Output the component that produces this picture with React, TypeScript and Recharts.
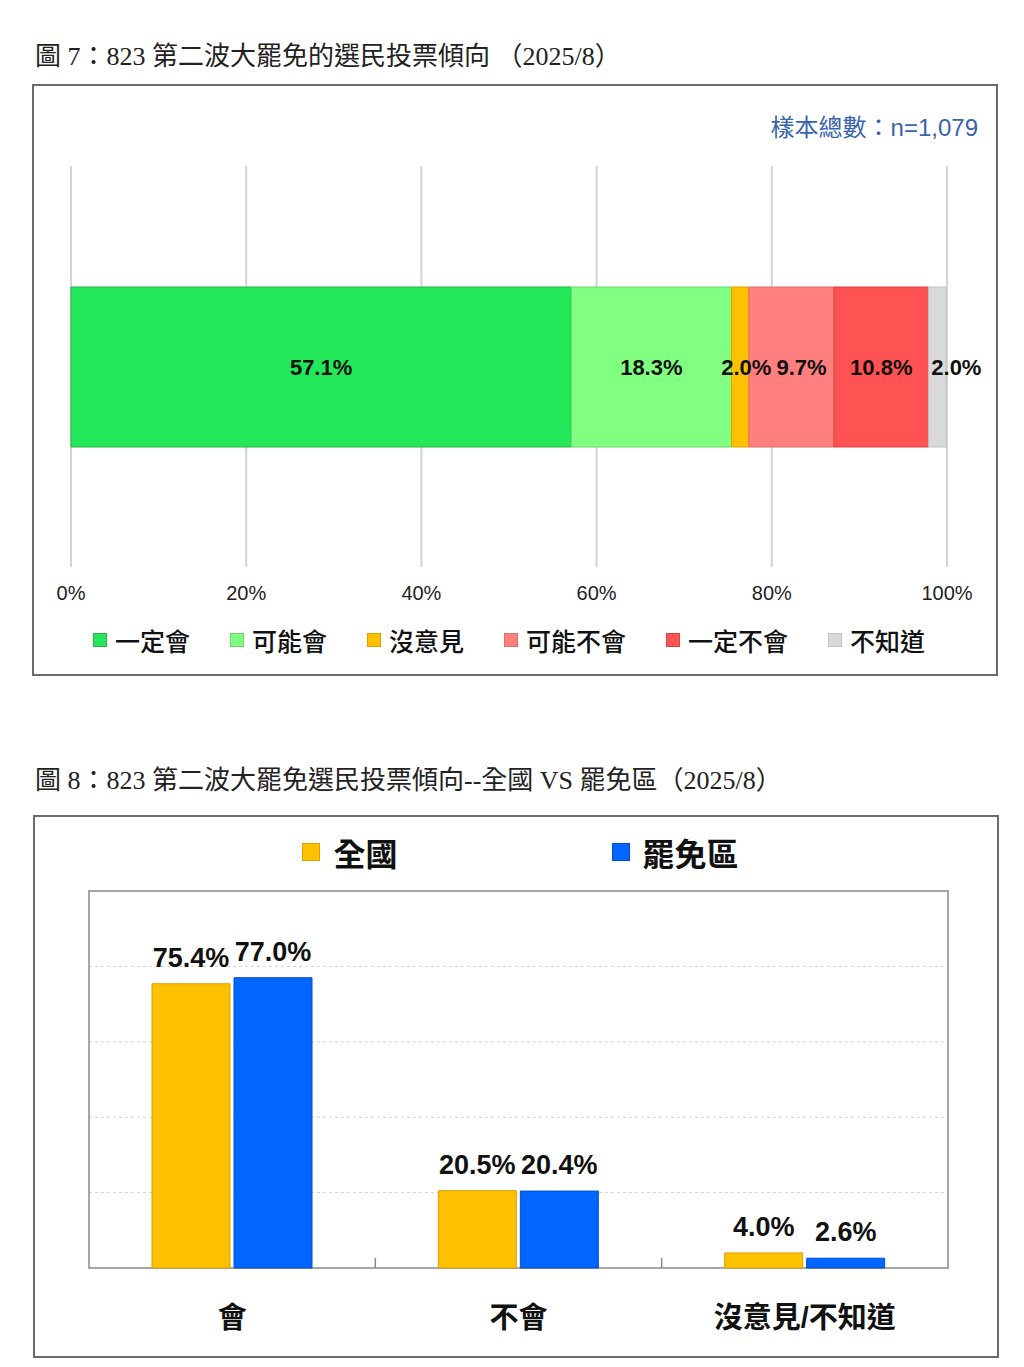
import {
  BarChart,
  Bar,
  XAxis,
  YAxis,
  CartesianGrid,
  Legend,
  LabelList,
  ReferenceArea,
  ReferenceLine,
} from "recharts";

// figure 7: single stacked bar
const voteCategories = ["一定會", "可能會", "沒意見", "可能不會", "一定不會", "不知道"];
const voteShares = [57.1, 18.3, 2.0, 9.7, 10.8, 2.0];
const percentTicks = [0, 20, 40, 60, 80, 100];
const sampleNote = "樣本總數：n=1,079";

// figure 8: national vs recall districts
const groupNames = ["會", "不會", "沒意見/不知道"];
const nationalShares = [75.4, 20.5, 4.0];
const recallShares = [77.0, 20.4, 2.6];
const seriesNames = ["全國", "罷免區"];
const groupEdges = [1, 2];

const voteColors = ["#22E85A", "#80FF80", "#FFC000", "#FF7F7F", "#FF5353", "#D9D9D9"];
const voteBorders = ["#2BB14F", "#6CD46C", "#D9A300", "#E06C6C", "#D94545", "#C4C4C4"];
const labelShift = [0, 0, 6, 10, 0, 19];
const seriesColors = ["#FFC000", "#0066FF"];
const seriesBorders = ["#D9A000", "#0050C8"];

const SANS = "'Liberation Sans', Arial, 'Noto Sans CJK TC', sans-serif";
const TITLE_FONT = "'Liberation Serif', 'Noto Sans CJK TC', serif";

const stackRow = [
  voteCategories.reduce<Record<string, number | string>>(
    (row, c, i) => {
      row[c] = voteShares[i];
      return row;
    },
    { name: "全體" }
  ),
];

const groupRows = groupNames.map((name, i) => ({
  name,
  pos: i + 0.5,
  national: nationalShares[i],
  recall: recallShares[i],
}));

const pct = (v: number) => `${v}%`;
const pct1 = (v: number) => `${v.toFixed(1)}%`;

function StackLegend() {
  return (
    <div
      style={{
        height: 40,
        display: "flex",
        justifyContent: "center",
        alignItems: "center",
        gap: 40,
        fontFamily: SANS,
        fontSize: 25,
        fontWeight: 500,
        color: "#111",
      }}
    >
      {voteCategories.map((c, i) => (
        <div key={c} style={{ display: "flex", alignItems: "center", gap: 8 }}>
          <span
            style={{
              width: 12,
              height: 12,
              background: voteColors[i],
              border: `1px solid ${voteBorders[i]}`,
            }}
          />
          <span>{c}</span>
        </div>
      ))}
    </div>
  );
}

function GroupLegend() {
  return (
    <div style={{ height: 59, display: "flex", justifyContent: "center", paddingLeft: 4 }}>
      <div
        style={{
          height: 40,
          display: "flex",
          alignItems: "center",
          gap: 214,
          fontFamily: SANS,
          fontSize: 32,
          fontWeight: 700,
          color: "#111",
        }}
      >
        {seriesNames.map((s, i) => (
          <div key={s} style={{ display: "flex", alignItems: "center", gap: 13 }}>
            <span
              style={{
                width: 16,
                height: 16,
                background: seriesColors[i],
                border: `1px solid ${seriesBorders[i]}`,
              }}
            />
            <span>{s}</span>
          </div>
        ))}
      </div>
    </div>
  );
}

function centerLabel(i: number) {
  return (p: any) => {
    const vb = p.viewBox || p;
    const x = (vb.x ?? p.x) + (vb.width ?? p.width) / 2 + labelShift[i];
    const y = (vb.y ?? p.y) + (vb.height ?? p.height) / 2;
    return (
      <text
        x={x}
        y={y}
        textAnchor="middle"
        dominantBaseline="central"
        fontFamily={SANS}
        fontSize={22}
        fontWeight={700}
        fill="#111"
      >
        {pct1(Number(p.value))}
      </text>
    );
  };
}

export default function App() {
  return (
    <div
      style={{
        position: "absolute",
        left: 0,
        top: 0,
        width: 1024,
        height: 1367,
        background: "#fff",
      }}
    >
      <div
        style={{
          position: "absolute",
          left: 35,
          top: 43,
          fontFamily: TITLE_FONT,
          fontSize: 26,
          lineHeight: "28px",
          color: "#222",
          whiteSpace: "pre",
        }}
      >
        圖 7：823 第二波大罷免的選民投票傾向 （2025/8）
      </div>

      <div
        style={{
          position: "absolute",
          left: 32,
          top: 84,
          width: 962,
          height: 588,
          border: "2px solid #6b6b6b",
        }}
      >
        <div
          style={{
            position: "absolute",
            right: 18,
            top: 22,
            fontFamily: SANS,
            fontSize: 24,
            color: "#3864AE",
            whiteSpace: "pre",
          }}
        >
          {sampleNote}
        </div>
        <BarChart
          width={962}
          height={588}
          data={stackRow}
          layout="vertical"
          margin={{ top: 80, right: 49, bottom: 14, left: 37 }}
        >
          <CartesianGrid horizontal={false} stroke="#D3D3D3" strokeWidth={2} />
          <XAxis
            type="number"
            domain={[0, 100]}
            ticks={percentTicks}
            tickFormatter={pct}
            axisLine={false}
            tickLine={false}
            tickMargin={13}
            height={53}
            tick={{ fontFamily: SANS, fontSize: 20, fill: "#222" }}
            interval={0}
          />
          <YAxis type="category" dataKey="name" hide />
          <Legend verticalAlign="bottom" content={() => <StackLegend />} />
          {voteCategories.map((c, i) => (
            <Bar
              key={c}
              dataKey={c}
              stackId="v"
              fill={voteColors[i]}
              stroke={voteBorders[i]}
              strokeWidth={1}
              barSize={160}
              isAnimationActive={false}
            >
              <LabelList dataKey={c} content={centerLabel(i)} />
            </Bar>
          ))}
        </BarChart>
      </div>

      <div
        style={{
          position: "absolute",
          left: 35,
          top: 767,
          fontFamily: TITLE_FONT,
          fontSize: 26,
          lineHeight: "28px",
          color: "#222",
          whiteSpace: "pre",
        }}
      >
        圖 8：823 第二波大罷免選民投票傾向--全國 VS 罷免區（2025/8）
      </div>

      <div
        style={{
          position: "absolute",
          left: 33,
          top: 815,
          width: 962,
          height: 539,
          border: "2px solid #6b6b6b",
        }}
      >
        <BarChart
          width={962}
          height={539}
          data={groupRows}
          margin={{ top: 15, right: 49, bottom: 10, left: 54 }}
          barGap={4}
        >
          <CartesianGrid vertical={false} stroke="#CFCFCF" strokeDasharray="3 3" />
          <XAxis
            dataKey="name"
            axisLine={false}
            tickLine={false}
            tickMargin={33}
            height={78}
            tick={{ fontFamily: SANS, fontSize: 29, fontWeight: 700, fill: "#111" }}
            interval={0}
          />
          <XAxis
            xAxisId="edge"
            dataKey="pos"
            type="number"
            domain={[0, 3]}
            allowDataOverflow
            hide
          />
          <YAxis domain={[0, 100]} ticks={percentTicks} hide />
          <Legend verticalAlign="top" content={() => <GroupLegend />} />
          <ReferenceArea y1={0} y2={100} fill="none" stroke="#A6A6A6" strokeWidth={2} />
          {groupEdges.map((e) => (
            <ReferenceLine
              key={e}
              xAxisId="edge"
              ifOverflow="visible"
              segment={[
                { x: e, y: 0 },
                { x: e, y: 2.7 },
              ]}
              stroke="#888888"
              strokeWidth={1.5}
            />
          ))}
          <Bar
            dataKey="national"
            name={seriesNames[0]}
            fill={seriesColors[0]}
            stroke={seriesBorders[0]}
            barSize={78}
            isAnimationActive={false}
          >
            <LabelList
              dataKey="national"
              position="top"
              offset={17}
              formatter={(v: any) => pct1(Number(v))}
              style={{ fontFamily: SANS, fontSize: 27, fontWeight: 700, fill: "#111" }}
            />
          </Bar>
          <Bar
            dataKey="recall"
            name={seriesNames[1]}
            fill={seriesColors[1]}
            stroke={seriesBorders[1]}
            barSize={78}
            isAnimationActive={false}
          >
            <LabelList
              dataKey="recall"
              position="top"
              offset={17}
              formatter={(v: any) => pct1(Number(v))}
              style={{ fontFamily: SANS, fontSize: 27, fontWeight: 700, fill: "#111" }}
            />
          </Bar>
        </BarChart>
      </div>
    </div>
  );
}
